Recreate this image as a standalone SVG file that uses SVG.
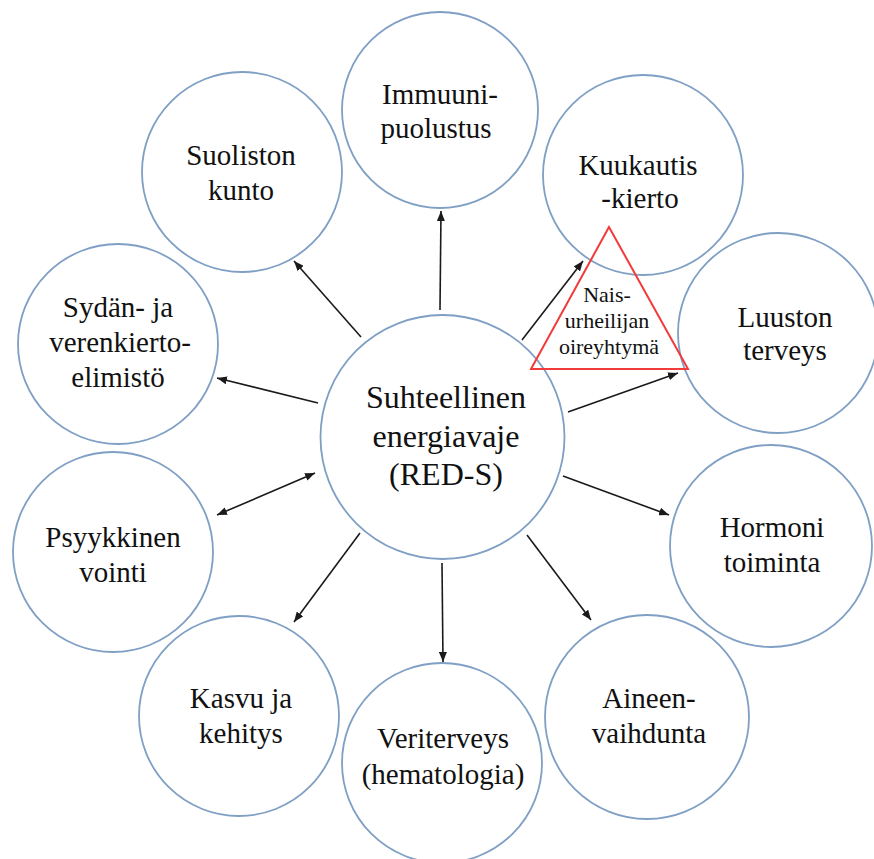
<svg xmlns="http://www.w3.org/2000/svg" width="874" height="859" viewBox="0 0 874 859">
  <style>
    .node circle { fill: #ffffff; stroke: #7f9fc4; stroke-width: 1.8; }
    .lbl { font-size: 29px; fill: #111111; text-anchor: middle; }
    .big { font-size: 32px; }
    .tri { font-size: 22px; }
    .conn line { stroke: #1a1a1a; stroke-width: 1.6; fill: none; marker-end: url(#ah); }
    .conn line.both { marker-start: url(#ah); }
  </style>
  <defs>
    <marker id="ah" markerUnits="userSpaceOnUse" markerWidth="10" markerHeight="8" refX="10" refY="4" orient="auto-start-reverse">
      <path d="M0,0 L10,4 L0,8 z" fill="#1a1a1a"/>
    </marker>
  </defs>
  <rect width="874" height="859" fill="#ffffff"/>
  <g font-family="Liberation Serif, Times New Roman, DejaVu Serif, serif">

  <g id="n-immuuni" class="node">
    <circle cx="440" cy="110" r="98"/>
    <text class="lbl" x="440" y="104">Immuuni-</text>
    <text class="lbl" x="436" y="138">puolustus</text>
  </g>
  <g id="n-suoliston" class="node">
    <circle cx="242" cy="172" r="100"/>
    <text class="lbl" x="241" y="165">Suoliston</text>
    <text class="lbl" x="241" y="200">kunto</text>
  </g>
  <g id="n-kuukautis" class="node">
    <circle cx="643" cy="175" r="100"/>
    <text class="lbl" x="638" y="175">Kuukautis</text>
    <text class="lbl" x="640" y="208">-kierto</text>
  </g>
  <g id="n-luuston" class="node">
    <circle cx="778" cy="333" r="100"/>
    <text class="lbl" x="785" y="327">Luuston</text>
    <text class="lbl" x="785" y="360">terveys</text>
  </g>
  <g id="n-sydan" class="node">
    <circle cx="118" cy="344" r="100"/>
    <text class="lbl" x="118" y="317">Sydän- ja</text>
    <text class="lbl" x="120" y="352">verenkierto-</text>
    <text class="lbl" x="118" y="387">elimistö</text>
  </g>
  <g id="n-psyykkinen" class="node">
    <circle cx="113" cy="552" r="100"/>
    <text class="lbl" x="113" y="547">Psyykkinen</text>
    <text class="lbl" x="113" y="582">vointi</text>
  </g>
  <g id="n-hormoni" class="node">
    <circle cx="771" cy="546" r="101"/>
    <text class="lbl" x="772" y="537">Hormoni</text>
    <text class="lbl" x="772" y="572">toiminta</text>
  </g>
  <g id="n-kasvu" class="node">
    <circle cx="239" cy="716" r="100"/>
    <text class="lbl" x="241" y="708">Kasvu ja</text>
    <text class="lbl" x="241" y="743">kehitys</text>
  </g>
  <g id="n-veri" class="node">
    <circle cx="442" cy="763" r="100"/>
    <text class="lbl" x="443" y="748">Veriterveys</text>
    <text class="lbl" x="443" y="784">(hematologia)</text>
  </g>
  <g id="n-aineen" class="node">
    <circle cx="647" cy="717" r="102"/>
    <text class="lbl" x="649" y="708">Aineen-</text>
    <text class="lbl" x="649" y="743">vaihdunta</text>
  </g>

  <g id="connectors" class="conn">
    <line x1="440" y1="310" x2="441" y2="211"/>
    <line x1="361" y1="337" x2="294" y2="261"/>
    <line x1="522" y1="340" x2="583" y2="261"/>
    <line x1="568" y1="412" x2="678" y2="373"/>
    <line x1="318" y1="403" x2="217" y2="378"/>
    <line class="both" x1="315" y1="473" x2="217" y2="515"/>
    <line x1="563" y1="476" x2="669" y2="515"/>
    <line x1="360" y1="533" x2="294" y2="622"/>
    <line x1="442" y1="563" x2="443" y2="662"/>
    <line x1="527" y1="535" x2="591" y2="620"/>
  </g>

  <g id="n-center" class="node">
    <circle cx="442.5" cy="437" r="122"/>
    <text class="lbl big" x="446" y="408">Suhteellinen</text>
    <text class="lbl big" x="446" y="447">energiavaje</text>
    <text class="lbl big" x="446" y="485">(RED-S)</text>
  </g>

  <g id="n-triad">
    <polygon points="609,227 531,369 688,369" fill="none" stroke="#f23a3a" stroke-width="2"/>
    <text class="lbl tri" x="607" y="302">Nais-</text>
    <text class="lbl tri" x="607" y="328">urheilijan</text>
    <text class="lbl tri" x="609" y="354">oireyhtymä</text>
  </g>
  </g>
</svg>
